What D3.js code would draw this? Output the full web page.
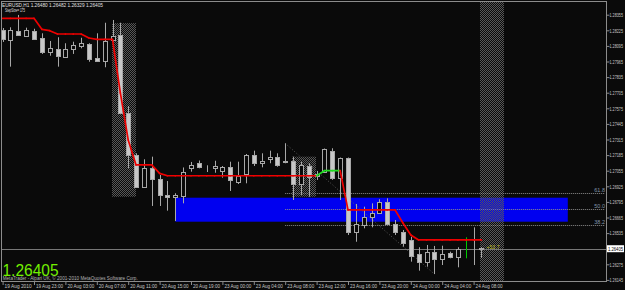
<!DOCTYPE html>
<html>
<head>
<meta charset="utf-8">
<script src="https://cdn.jsdelivr.net/npm/d3@7"></script>
<style>
body { margin: 0; background: #0a0a0a; }
svg { display: block; }
text { font-family: "Liberation Sans", Arial, sans-serif; }
</style>
</head>
<body>
<script>
var width = 625, height = 290;

// EURUSD H1 bars, index 0 = 19 Aug 2010 19:00
var opens  = [1.28228,1.28144,1.28222,1.28180,1.28219,1.28163,1.28047,1.28069,1.28005,1.28072,
              1.28097,1.28108,1.27992,1.27972,1.28142,1.28186,1.27533,1.27186,1.26922,1.27080,
              1.26983,1.26853,1.26833,1.26848,1.27075,1.27122,1.27080,1.27075,1.27055,1.27083,
              1.26963,1.27028,1.27186,1.27117,1.27150,1.27167,1.27125,1.27136,1.26942,1.27094,
              1.27007,1.27047,1.27222,1.26992,1.27158,1.26547,1.26603,1.26667,1.26705,1.26792,
              1.26611,1.26547,1.26478,1.26358,1.26297,1.26375,1.26317,1.26367,1.26333,1.26398,
              1.26392,1.26412];
var highs  = [1.28244,1.28250,1.28353,1.28247,1.28238,1.28200,1.28136,1.28167,1.28117,1.28130,
              1.28163,1.28117,1.28200,1.28288,1.28311,1.28288,1.27594,1.27200,1.27150,1.27172,
              1.27019,1.26969,1.26867,1.27082,1.27128,1.27140,1.27100,1.27138,1.27094,1.27130,
              1.27130,1.27194,1.27222,1.27200,1.27222,1.27200,1.27283,1.27172,1.27130,1.27117,
              1.27053,1.27240,1.27242,1.27165,1.27165,1.26778,1.26755,1.26783,1.26817,1.26825,
              1.26644,1.26561,1.26505,1.26417,1.26436,1.26428,1.26430,1.26380,1.26417,1.26500,
              1.26583,1.26417];
var lows   = [1.28128,1.27922,1.28178,1.28172,1.28150,1.28028,1.28013,1.27922,1.27997,1.28028,
              1.28075,1.27963,1.27969,1.27917,1.28130,1.27528,1.27075,1.26919,1.26919,1.26761,
              1.26761,1.26722,1.26636,1.26783,1.27047,1.27075,1.27044,1.27038,1.26997,1.26886,
              1.26944,1.26950,1.27094,1.27083,1.27117,1.27088,1.27117,1.26811,1.26853,1.26838,
              1.26978,1.27036,1.26978,1.26811,1.26519,1.26463,1.26575,1.26583,1.26700,1.26603,
              1.26519,1.26422,1.26297,1.26222,1.26255,1.26194,1.26269,1.26325,1.26250,1.26325,
              1.26269,1.26329];
var closes = [1.28150,1.28228,1.28186,1.28228,1.28153,1.28047,1.28075,1.28013,1.28069,1.28100,
              1.28117,1.27986,1.27972,1.28138,1.28178,1.27533,1.27186,1.26922,1.27075,1.26983,
              1.26853,1.26836,1.26853,1.27047,1.27100,1.27086,1.27075,1.27097,1.27083,1.26978,
              1.27013,1.27186,1.27117,1.27138,1.27167,1.27103,1.27138,1.26942,1.27103,1.27000,
              1.27028,1.27233,1.26992,1.27158,1.26547,1.26611,1.26667,1.26700,1.26792,1.26611,
              1.26547,1.26455,1.26347,1.26297,1.26375,1.26317,1.26361,1.26333,1.26400,1.26398,
              1.26398,1.26405];

// StepMA indicator, one value per bar, and its trend (1 = up / green)
var stepLine = [1.28325,1.28325,1.28325,1.28325,1.28325,1.28233,1.28222,1.28194,1.28194,1.28194,
                1.28194,1.28161,1.28150,1.28150,1.28150,1.27703,1.27311,1.27103,1.27103,1.27103,
                1.27033,1.27013,1.27013,1.27013,1.27013,1.27013,1.27013,1.27013,1.27013,1.27013,
                1.27013,1.27013,1.27013,1.27013,1.27013,1.27013,1.27013,1.27013,1.27013,1.27013,
                1.27013,1.27055,1.27055,1.27055,1.26728,1.26728,1.26728,1.26728,1.26728,1.26728,
                1.26728,1.26619,1.26519,1.26478,1.26478,1.26478,1.26478,1.26478,1.26478,1.26478,
                1.26478,1.26478];
var stepUp = [0,0,0,0,0,0,0,0,0,0, 0,0,0,0,0,0,0,0,0,0, 0,0,0,0,0,0,0,0,0,0,
              0,0,0,0,0,0,0,0,0,0, 0,1,1,1,0,0,0,0,0,0, 0,0,0,0,0,0,0,0,0,0, 0,0];

var timeLabels = ["19 Aug 2010","19 Aug 23:00","20 Aug 03:00","20 Aug 07:00","20 Aug 11:00",
                  "20 Aug 15:00","20 Aug 19:00","23 Aug 00:00","23 Aug 04:00","23 Aug 08:00",
                  "23 Aug 12:00","23 Aug 16:00","23 Aug 20:00","24 Aug 00:00","24 Aug 04:00",
                  "24 Aug 08:00"];
var timeLabelBars = [0,4,8,12,16,20,24,28,32,36,40,44,48,52,56,60];
var priceTicks = [1.28355,1.28225,1.28095,1.27965,1.27835,1.27705,1.27575,1.27445,1.27315,
                  1.27185,1.27055,1.26925,1.26795,1.26665,1.26535,1.26405,1.26275,1.26145];

// shaded zones (bar from, bar to, top, bottom)
var zoneFrom = [14, 37, 61];
var zoneTo = [17, 40, 64];
var zoneTop = [1.28285, 1.27172, 1.28461];
var zoneBottom = [1.26838, 1.26838, 1.26136];

// blue rectangle
var boxFrom = 22, boxTo = 72, boxTop = 1.26830, boxBottom = 1.26630;

// fibonacci levels
var fibFrom = 36;
var fibLevels = [1.26872, 1.26736, 1.26603];
var fibNames = ["61.8", "50.0", "38.2"];
var fibTrend = [[36, 1.27283], [55, 1.26194]];

var lastPrice = 1.26405;

var plotL = 1.5, plotR = 606.5, plotT = 1.5, plotB = 281.5;

var svg = d3.select("body").append("svg")
    .attr("width", width)
    .attr("height", height);

svg.append("rect").attr("width", width).attr("height", height).attr("fill", "#0a0a0a");

var defs = svg.append("defs");
var pat = defs.append("pattern").attr("id", "dither")
    .attr("width", 2).attr("height", 2).attr("patternUnits", "userSpaceOnUse");
pat.append("rect").attr("x", 0).attr("y", 0).attr("width", 1).attr("height", 1).attr("fill", "#585858");
pat.append("rect").attr("x", 1).attr("y", 1).attr("width", 1).attr("height", 1).attr("fill", "#585858");
defs.append("clipPath").attr("id", "plotclip")
    .append("rect").attr("x", plotL).attr("y", plotT).attr("width", plotR - plotL).attr("height", plotB - plotT);

var xScale = d3.scaleLinear().domain([0, 60]).range([2.6, 473.6]);
var yScale = d3.scaleLinear().domain([1.26145, 1.28355]).range([279.9, 14.7]);
function px(i) { return Math.round(xScale(i)); }

var g = svg.append("g").attr("clip-path", "url(#plotclip)");

// blue rectangle
g.append("rect")
    .attr("x", xScale(boxFrom)).attr("y", yScale(boxTop))
    .attr("width", xScale(boxTo) - xScale(boxFrom))
    .attr("height", yScale(boxBottom) - yScale(boxTop))
    .attr("fill", "#0000f0");

// shaded zones
g.selectAll(".zone")
    .data(zoneFrom)
    .enter().append("rect")
    .attr("class", "zone")
    .attr("x", function(d) { return Math.round(xScale(d)) - 1; })
    .attr("y", function(d, i) { return yScale(zoneTop[i]); })
    .attr("width", function(d, i) { return Math.round(xScale(zoneTo[i]) - xScale(d)); })
    .attr("height", function(d, i) { return yScale(zoneBottom[i]) - yScale(zoneTop[i]); })
    .attr("fill", "url(#dither)");

// fibonacci
g.selectAll(".fib")
    .data(fibLevels)
    .enter().append("line")
    .attr("class", "fib")
    .attr("x1", xScale(fibFrom)).attr("x2", 605)
    .attr("y1", function(d) { return Math.round(yScale(d)) + 0.5; })
    .attr("y2", function(d) { return Math.round(yScale(d)) + 0.5; })
    .attr("stroke", "#8c8c8c").attr("stroke-dasharray", "1,1");
g.append("line")
    .attr("x1", xScale(fibTrend[0][0])).attr("y1", yScale(fibTrend[0][1]))
    .attr("x2", xScale(fibTrend[1][0])).attr("y2", yScale(fibTrend[1][1]))
    .attr("stroke", "#5a5a5a").attr("stroke-dasharray", "1,2");
svg.selectAll(".fibtxt")
    .data(fibLevels)
    .enter().append("text")
    .attr("x", 605).attr("y", function(d) { return yScale(d) - 0.8; })
    .attr("text-anchor", "end")
    .attr("font-size", "5.5px")
    .attr("fill", "#8294a8")
    .text(function(d, i) { return fibNames[i]; });

// current price line
g.append("line")
    .attr("x1", plotL).attr("x2", plotR)
    .attr("y1", Math.round(yScale(lastPrice)) + 0.5).attr("y2", Math.round(yScale(lastPrice)) + 0.5)
    .attr("stroke", "#777777");

// candles
var candle = g.selectAll(".candle")
    .data(opens)
    .enter().append("g")
    .attr("class", "candle");

candle.append("line")
    .attr("x1", function(d, i) { return px(i) + 0.5; })
    .attr("x2", function(d, i) { return px(i) + 0.5; })
    .attr("y1", function(d, i) { return yScale(highs[i]); })
    .attr("y2", function(d, i) { return yScale(lows[i]); })
    .attr("stroke", function(d, i) { return opens[i] === closes[i] ? "#00c800" : "#a8a8a8"; });

candle.append("rect")
    .attr("x", function(d, i) { return px(i) - 1.5; })
    .attr("y", function(d, i) { return Math.round(yScale(Math.max(opens[i], closes[i]))) + 0.5; })
    .attr("width", 4)
    .attr("height", function(d, i) {
        return Math.max(0, Math.round(yScale(Math.min(opens[i], closes[i]))) - Math.round(yScale(Math.max(opens[i], closes[i]))));
    })
    .attr("fill", function(d, i) { return closes[i] < opens[i] ? "#c8c8c8" : "#0a0a0a"; })
    .attr("stroke", function(d, i) { return opens[i] === closes[i] ? "#00c800" : "#a8a8a8"; });

// step line, red down / green up
for (var i = 1; i < stepLine.length; i++) {
    g.append("line")
        .attr("x1", xScale(i - 1)).attr("y1", yScale(stepLine[i - 1]))
        .attr("x2", xScale(i)).attr("y2", yScale(stepLine[i]))
        .attr("stroke", stepUp[i] ? "#22dd22" : "#ee0000")
        .attr("stroke-width", 1.7)
        .attr("stroke-linecap", "round");
}

// frame
svg.append("rect")
    .attr("x", plotL).attr("y", plotT)
    .attr("width", plotR - plotL).attr("height", plotB - plotT)
    .attr("fill", "none").attr("stroke", "#8c8c8c");

// price axis
var yAxis = svg.append("g")
    .attr("transform", "translate(" + plotR + ",0)")
    .call(d3.axisRight(yScale).tickValues(priceTicks).tickSize(3).tickFormat(d3.format(".5f")));
yAxis.select(".domain").remove();
yAxis.selectAll("line").attr("stroke", "#8c8c8c");
yAxis.selectAll("text")
    .attr("x", 3).attr("fill", "#c8c8c8")
    .attr("font-size", "5.5px")
    .attr("textLength", 13.5).attr("lengthAdjust", "spacingAndGlyphs")
    .style("font-family", "Liberation Sans, Arial, sans-serif");

// last price box
svg.append("rect")
    .attr("x", 607).attr("y", yScale(lastPrice) - 3.5)
    .attr("width", 17).attr("height", 7)
    .attr("fill", "#ffffff");
svg.append("text")
    .attr("x", 608).attr("y", yScale(lastPrice) + 2)
    .attr("font-size", "5.5px").attr("fill", "#000")
    .attr("textLength", 15).attr("lengthAdjust", "spacingAndGlyphs")
    .text(d3.format(".5f")(lastPrice));

// time axis
var xAxis = svg.append("g")
    .attr("transform", "translate(0," + plotB + ")")
    .call(d3.axisBottom(xScale).tickValues(timeLabelBars).tickSize(3.5)
        .tickFormat(function(d, i) { return timeLabels[i]; }));
xAxis.select(".domain").remove();
xAxis.selectAll("line").attr("stroke", "#8c8c8c");
xAxis.selectAll("text")
    .attr("text-anchor", "start")
    .attr("x", 1.5).attr("y", 2.5)
    .attr("fill", "#c8c8c8")
    .attr("font-size", "5.5px")
    .attr("textLength", 27).attr("lengthAdjust", "spacingAndGlyphs")
    .style("font-family", "Liberation Sans, Arial, sans-serif");

// texts
svg.append("text")
    .attr("x", 2).attr("y", 7.4)
    .attr("font-size", "5.5px").attr("fill", "#e0e0e0")
    .attr("textLength", 101).attr("lengthAdjust", "spacingAndGlyphs")
    .text("EURUSD,H1  1.26480 1.26482 1.26329 1.26405");
svg.append("text")
    .attr("x", 5).attr("y", 12)
    .attr("font-size", "5.5px").attr("fill", "#e0e0e0")
    .attr("textLength", 20).attr("lengthAdjust", "spacingAndGlyphs")
    .text("StepSize= 175");

svg.append("text")
    .attr("x", 2.5).attr("y", 276.2)
    .attr("font-size", "16px").attr("fill", "#72f000")
    .attr("textLength", 56).attr("lengthAdjust", "spacingAndGlyphs")
    .text("1.26405");

svg.append("text")
    .attr("x", 2.7).attr("y", 280.3)
    .attr("font-size", "4.5px").attr("fill", "#b4b4b4")
    .attr("textLength", 135).attr("lengthAdjust", "spacingAndGlyphs")
    .text("MetaTrader - Alpari UK, \u00a9 2001-2010 MetaQuotes Software Corp.");

svg.append("text")
    .attr("x", 486.5).attr("y", 248.5)
    .attr("font-size", "5.5px").attr("fill", "#b8b820")
    .attr("textLength", 13).attr("lengthAdjust", "spacingAndGlyphs")
    .text("+53.7");
</script>
</body>
</html>
